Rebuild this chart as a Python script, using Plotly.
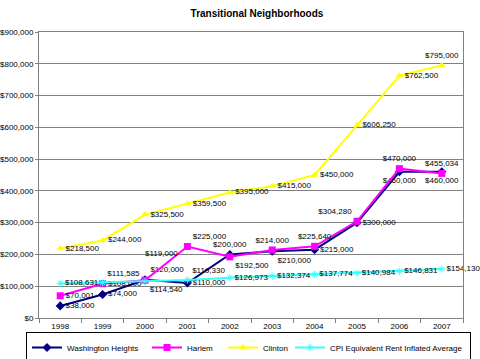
import plotly.graph_objects as go

years = ["1998", "1999", "2000", "2001", "2002", "2003", "2004", "2005", "2006", "2007"]
washington_heights = [38000, 74000, 120000, 110000, 200000, 210000, 215000, 300000, 460000, 460000]
harlem = [70001, 108000, 119000, 225000, 192500, 214000, 225640, 304280, 470000, 455034]
clinton = [218500, 244000, 325500, 359500, 395000, 415000, 450000, 606250, 762500, 795000]
cpi = [108631, 111585, 114540, 119330, 126973, 132374, 137774, 140984, 146831, 154130]

y_ticks = [0, 100000, 200000, 300000, 400000, 500000, 600000, 700000, 800000, 900000]

def money(v):
    return "${:,}".format(v)

wh_pos = ["middle right", "middle right", "top right", "middle right", "top center",
          "bottom right", "middle right", "middle right", "bottom center", "bottom center"]
ha_pos = ["middle right", "middle right", "top right", "top right", "bottom right",
          "top center", "top center", "top left", "top center", "top center"]
cl_pos = ["middle right"] * 9 + ["top center"]
cpi_pos = ["middle right", "top right", "bottom right", "top right", "middle right",
           "middle right", "middle right", "middle right", "middle right", "middle right"]

FONT = "Liberation Sans, Arial, sans-serif"
tfont = dict(family=FONT, size=8, color="black")

raised_idx = years.index("2000")
harlem_text = [money(v) for v in harlem]
harlem_text[raised_idx] = ""  # drawn as a raised annotation below

fig = go.Figure()
fig.add_trace(go.Scatter(
    x=years, y=washington_heights, name="Washington Heights", mode="lines+markers+text",
    line=dict(color="#000080", width=2), marker=dict(symbol="diamond", size=7, color="#000080"),
    text=[money(v) for v in washington_heights], textposition=wh_pos, textfont=tfont,
    legendwidth=75, cliponaxis=False))
fig.add_trace(go.Scatter(
    x=years, y=harlem, name="Harlem", mode="lines+markers+text",
    line=dict(color="#FF00FF", width=2), marker=dict(symbol="square", size=7, color="#FF00FF"),
    text=harlem_text, textposition=ha_pos, textfont=tfont,
    legendwidth=31, cliponaxis=False))
fig.add_trace(go.Scatter(
    x=years, y=clinton, name="Clinton", mode="lines+markers+text",
    line=dict(color="#FFFF00", width=2), marker=dict(symbol="triangle-up", size=7, color="#FFFF00"),
    text=[money(v) for v in clinton], textposition=cl_pos, textfont=tfont,
    legendwidth=22, cliponaxis=False))
fig.add_trace(go.Scatter(
    x=years, y=cpi, name="CPI Equivalent Rent Inflated Average", mode="lines+markers+text",
    line=dict(color="#33FFFF", width=2),
    marker=dict(symbol="asterisk", size=6, color="#33FFFF", line=dict(color="#33FFFF", width=1)),
    text=[money(v) for v in cpi], textposition=cpi_pos, textfont=tfont,
    legendwidth=135, cliponaxis=False))

fig.add_annotation(x=raised_idx, y=harlem[raised_idx], text=money(harlem[raised_idx]),
                   showarrow=False, xanchor="left", yanchor="bottom", xshift=-2, yshift=20,
                   font=tfont)

fig.update_layout(
    width=480, height=359,
    margin=dict(l=39, r=17, t=32, b=41, autoexpand=False),
    paper_bgcolor="white", plot_bgcolor="white",
    font=dict(family=FONT, size=8, color="black"),
    title=dict(text="<b>Transitional Neighborhoods</b>", x=257 / 480, xanchor="center",
               y=1 - 13 / 359, yanchor="middle", font=dict(family=FONT, size=10, color="black")),
    xaxis=dict(type="category", range=[-0.5, len(years) - 0.5], showgrid=False, showline=True,
               linecolor="#808080", linewidth=1,
               mirror=True, ticks="outside", tickson="boundaries", ticklen=4, tickcolor="#808080",
               automargin=False, tickfont=dict(family=FONT, size=8, color="black")),
    yaxis=dict(range=[0, 900000], tickvals=y_ticks, ticktext=[money(v) for v in y_ticks],
               showgrid=True, gridcolor="#808080", gridwidth=1, showline=True, linecolor="#808080",
               linewidth=1, mirror=True, ticks="outside", ticklen=3, tickcolor="#808080",
               zeroline=False, automargin=False, tickfont=dict(family=FONT, size=8, color="black")),
    legend=dict(orientation="h", x=-13 / 424, xanchor="left", y=-14 / 286, yanchor="top",
                bordercolor="black", borderwidth=1, font=dict(family=FONT, size=8, color="black"),
                itemwidth=30, tracegroupgap=0),
    showlegend=True,
)

fig.write_html("out.html", config={"displayModeBar": False},
               post_script="document.body.style.margin='0';document.body.style.overflow='hidden';")
